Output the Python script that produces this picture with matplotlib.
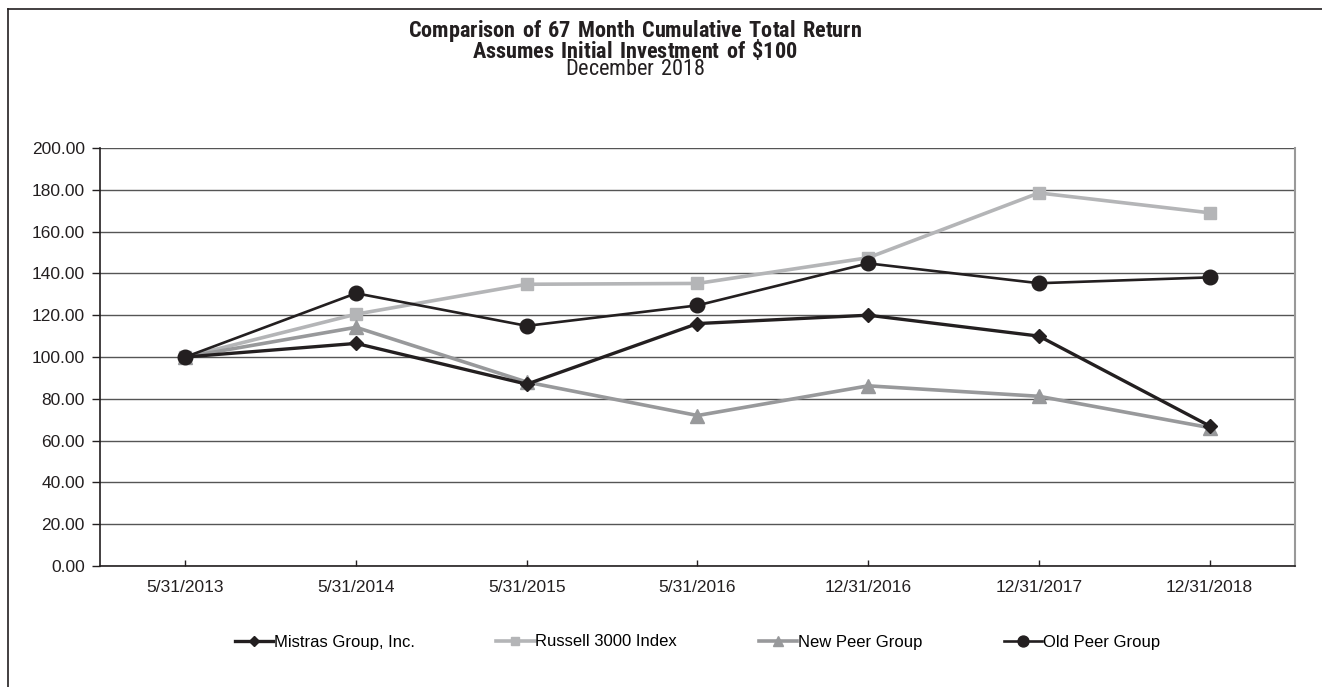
import matplotlib
matplotlib.use("Agg")
import matplotlib.pyplot as plt
from matplotlib.lines import Line2D

dates = ["5/31/2013", "5/31/2014", "5/31/2015", "5/31/2016",
         "12/31/2016", "12/31/2017", "12/31/2018"]
mistras = [100.0, 106.5, 87.0, 116.0, 120.0, 110.0, 67.0]
russell = [100.0, 120.5, 134.8, 135.2, 147.5, 178.5, 169.0]
new_peer = [100.0, 114.2, 88.0, 72.0, 86.2, 81.2, 66.2]
old_peer = [100.0, 130.5, 114.9, 124.7, 144.8, 135.3, 138.1]

plt.rcParams['font.family'] = ['Liberation Sans', 'DejaVu Sans']
plt.rcParams['mathtext.fontset'] = 'custom'
plt.rcParams['mathtext.rm'] = 'Roboto Condensed'
plt.rcParams['mathtext.bf'] = 'Roboto Condensed:bold'

fig = plt.figure(figsize=(13.22, 6.87), dpi=100)
ax = fig.add_axes([100 / 1322, 1 - 566 / 687, (1295 - 100) / 1322, (566 - 148) / 687])

x = list(range(len(dates)))
ax.plot(x, mistras, color='#231f20', lw=2.4, marker='D', ms=7, label='Mistras Group, Inc.', zorder=5)
ax.plot(x, russell, color='#b4b5b7', lw=2.6, marker='s', ms=8.5, label='Russell 3000 Index', zorder=3)
ax.plot(x, new_peer, color='#98999b', lw=2.6, marker='^', ms=9.5, label='New Peer Group', zorder=4)
ax.plot(x, old_peer, color='#231f20', lw=1.9, marker='o', ms=10.5, label='Old Peer Group', zorder=6)

ax.set_xlim(-0.5, len(dates) - 0.5)
ax.set_ylim(0, 200)
ax.set_yticks(range(0, 201, 20))
ax.set_yticklabels(['%.2f' % v for v in range(0, 201, 20)], fontsize=12.5, color='#231f20')
ax.set_xticks(x)
ax.set_xticklabels(dates, fontsize=12.5, color='#231f20')
ax.tick_params(axis='y', length=6, width=1, color='#231f20', pad=5)
ax.tick_params(axis='x', direction='in', length=4, width=1, color='#231f20', pad=10)
ax.yaxis.grid(True, color='#555555', lw=1)
ax.set_axisbelow(True)
ax.spines['top'].set_visible(False)
ax.spines['right'].set_color('#999999')
ax.spines['right'].set_linewidth(1.5)
ax.spines['left'].set_color('#231f20')
ax.spines['bottom'].set_color('#231f20')
ax.spines['left'].set_linewidth(1.2)
ax.spines['bottom'].set_linewidth(1.2)

handles, labels = ax.get_legend_handles_labels()
ax.legend(handles, labels, loc='center', bbox_to_anchor=(0.5, 1 - (642 - 148) / (566 - 148)),
          ncol=4, frameon=False, fontsize=12, handlelength=2.3, handletextpad=0.05,
          columnspacing=4.9, markerscale=0.75)

title = ('$\\mathbf{Comparison\\ of\\ 67\\ Month\\ Cumulative\\ Total\\ Return}$\n'
         '$\\mathbf{Assumes\\ Initial\\ Investment\\ of\\ \\$100}$\n'
         '$\\mathrm{December\\ 2018}$')
fig.text(635 / 1322, 1 - 49 / 687, title, ha='center', va='center', ma='center',
         fontsize=16, family=['Roboto Condensed', 'DejaVu Sans'], color='#231f20',
         linespacing=0.72)

# frame around the chart
fig.add_artist(Line2D([8 / 1322, 8 / 1322], [0, 1 - 9 / 687], color='#231f20', lw=1.2))
fig.add_artist(Line2D([8 / 1322, 1], [1 - 9 / 687, 1 - 9 / 687], color='#231f20', lw=1.2))

fig.savefig('out.png', dpi=100)
